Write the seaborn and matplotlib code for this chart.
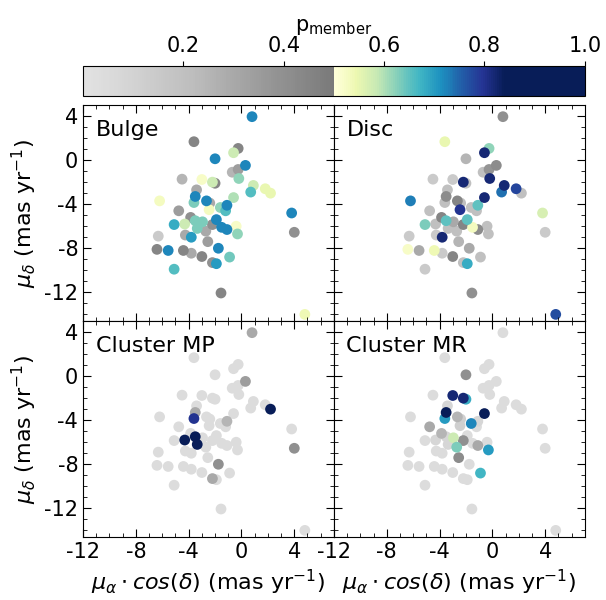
import numpy as np
import pandas as pd
import matplotlib
matplotlib.use("Agg")
import matplotlib.pyplot as plt
import seaborn as sns
from matplotlib.colors import ListedColormap, Normalize
from matplotlib.cm import ScalarMappable
from matplotlib.ticker import MultipleLocator

plt.rcParams['axes.unicode_minus'] = False

# proper motions of the stars (same stars in every panel)
pmra = [0.8, -3.6, -0.25, -0.6, -2.0, 0.3, -0.7, -0.25, -4.5, -3.0,
        -2.2, -2.0, -0.2, 0.9, 0.7, 1.8, 2.2, -3.4, -3.5, -6.2,
        -3.6, -2.65, -2.4, -0.6, -1.1, -1.6, -4.75, -2.45, -1.2, 3.8,
        -3.5, -4.3, -5.1, -3.35, -1.9, -2.2, -1.5, -1.1, -0.4, -0.3,
        4.0, -6.3, -4.25, -3.8, -2.55, -1.75, -6.4, -5.55, -4.4, -3.8,
        -3.0, -0.9, -2.2, -1.9, -5.1, -1.55, 4.8, -2.95, -2.7, -3.85]
pmdec = [3.94, 1.67, 1.06, 0.67, 0.12, -0.48, -1.1, -0.85, -1.73, -1.76,
         -2.0, -2.1, -1.67, -2.3, -2.9, -2.6, -3.0, -2.7, -3.3, -3.7,
         -3.85, -3.7, -3.9, -3.4, -4.1, -4.3, -4.6, -4.5, -4.6, -4.8,
         -5.5, -5.8, -5.85, -6.2, -5.4, -5.85, -6.1, -6.3, -6.0, -6.7,
         -6.55, -6.9, -6.8, -7.0, -7.4, -8.0, -8.1, -8.2, -8.2, -8.45,
         -8.75, -8.8, -9.3, -9.4, -9.9, -12.06, -14.0, -5.6, -6.45, -5.2]

# membership probabilities per population
p_bulge = [0.72, 0.45, 0.45, 0.58, 0.72, 0.72, 0.25, 0.35, 0.25, 0.52,
           0.58, 0.45, 0.62, 0.58, 0.66, 0.55, 0.55, 0.30, 0.72, 0.53,
           0.63, 0.72, 0.30, 0.60, 0.72, 0.62, 0.35, 0.53, 0.66, 0.72,
           0.63, 0.58, 0.68, 0.63, 0.72, 0.40, 0.72, 0.72, 0.52, 0.62,
           0.40, 0.15, 0.30, 0.70, 0.35, 0.72, 0.45, 0.72, 0.45, 0.30,
           0.45, 0.64, 0.40, 0.70, 0.66, 0.45, 0.54, 0.63, 0.30, 0.40]
p_disc = [0.40, 0.55, 0.62, 0.82, 0.25, 0.42, 0.20, 0.38, 0.15, 0.15,
          0.82, 0.20, 0.82, 0.82, 0.74, 0.78, 0.20, 0.20, 0.42, 0.73,
          0.20, 0.45, 0.20, 0.82, 0.65, 0.20, 0.20, 0.80, 0.20, 0.57,
          0.65, 0.20, 0.63, 0.20, 0.65, 0.45, 0.53, 0.42, 0.20, 0.20,
          0.15, 0.15, 0.15, 0.82, 0.25, 0.30, 0.52, 0.30, 0.54, 0.15,
          0.45, 0.20, 0.20, 0.68, 0.15, 0.40, 0.77, 0.30, 0.20, 0.45]
p_mp = [0.30, 0.05, 0.05, 0.05, 0.05, 0.35, 0.05, 0.05, 0.05, 0.05,
        0.05, 0.05, 0.05, 0.05, 0.05, 0.05, 0.92, 0.05, 0.30, 0.05,
        0.80, 0.05, 0.05, 0.05, 0.25, 0.05, 0.05, 0.05, 0.05, 0.05,
        0.85, 0.92, 0.05, 0.92, 0.05, 0.05, 0.05, 0.05, 0.05, 0.05,
        0.40, 0.05, 0.05, 0.05, 0.05, 0.40, 0.05, 0.05, 0.05, 0.05,
        0.05, 0.05, 0.30, 0.05, 0.05, 0.05, 0.05, 0.05, 0.05, 0.05]
p_mr = [0.05, 0.05, 0.05, 0.05, 0.40, 0.05, 0.05, 0.05, 0.05, 0.82,
        0.82, 0.68, 0.05, 0.05, 0.05, 0.05, 0.05, 0.08, 0.85, 0.05,
        0.70, 0.25, 0.12, 0.86, 0.08, 0.72, 0.30, 0.12, 0.05, 0.05,
        0.08, 0.08, 0.05, 0.08, 0.05, 0.40, 0.05, 0.30, 0.05, 0.70,
        0.05, 0.05, 0.05, 0.05, 0.42, 0.05, 0.05, 0.05, 0.05, 0.05,
        0.05, 0.67, 0.05, 0.05, 0.05, 0.05, 0.05, 0.58, 0.63, 0.25]

panels = ['Bulge', 'Disc', 'Cluster MP', 'Cluster MR']
probs = [p_bulge, p_disc, p_mp, p_mr]

# grey below 0.5, YlGnBu above (reaches navy around 0.84)
greys = plt.cm.Greys(np.linspace(0.2, 0.6, 128))
blues = plt.cm.YlGnBu(np.clip(np.linspace(0, 1, 128) / 0.68, 0, 1))
cmap = ListedColormap(np.vstack([greys, blues]))

fig = plt.figure(figsize=(6.06, 6.0), dpi=100)
gs = fig.add_gridspec(2, 2, left=0.137, right=0.965, bottom=0.105, top=0.825,
                      hspace=0, wspace=0)
axes = gs.subplots(sharex=True, sharey=True)

for ax, name, p in zip(axes.flat, panels, probs):
    df = pd.DataFrame({'pmra': pmra, 'pmdec': pmdec, 'p': p}).sort_values('p')
    sns.scatterplot(data=df, x='pmra', y='pmdec', hue='p', palette=cmap,
                    hue_norm=(0, 1), s=60, edgecolor='none', legend=False, ax=ax)
    ax.text(0.05, 0.93, name, transform=ax.transAxes, fontsize=16, va='top')
    ax.set_xlim(-12, 7)
    ax.set_ylim(-14.6, 5)
    ax.set_xticks([-12, -8, -4, 0, 4])
    ax.set_yticks([-12, -8, -4, 0, 4])
    ax.xaxis.set_minor_locator(MultipleLocator(1))
    ax.yaxis.set_minor_locator(MultipleLocator(1))
    ax.tick_params(which='both', direction='in', top=True, right=True, labelsize=15)
    ax.tick_params(which='major', length=6)
    ax.tick_params(which='minor', length=3)
    ax.set_xlabel('')
    ax.set_ylabel('')

for ax in axes[:, 0]:
    ax.set_ylabel(r'$\mu_\delta$ (mas yr$^{-1}$)', fontsize=16)
for ax in axes[1, :]:
    ax.set_xlabel(r'$\mu_\alpha \cdot cos(\delta)$ (mas yr$^{-1}$)', fontsize=16)

cax = fig.add_axes([0.137, 0.84, 0.828, 0.05])
cb = fig.colorbar(ScalarMappable(norm=Normalize(0, 1), cmap=cmap), cax=cax,
                  orientation='horizontal')
cb.set_ticks([0.2, 0.4, 0.6, 0.8, 1.0])
cax.xaxis.set_ticks_position('top')
cax.xaxis.set_label_position('top')
cax.tick_params(labelsize=15)
cb.set_label(r'p$_{\rm member}$', fontsize=15)

fig.savefig('out.png', dpi=100)
